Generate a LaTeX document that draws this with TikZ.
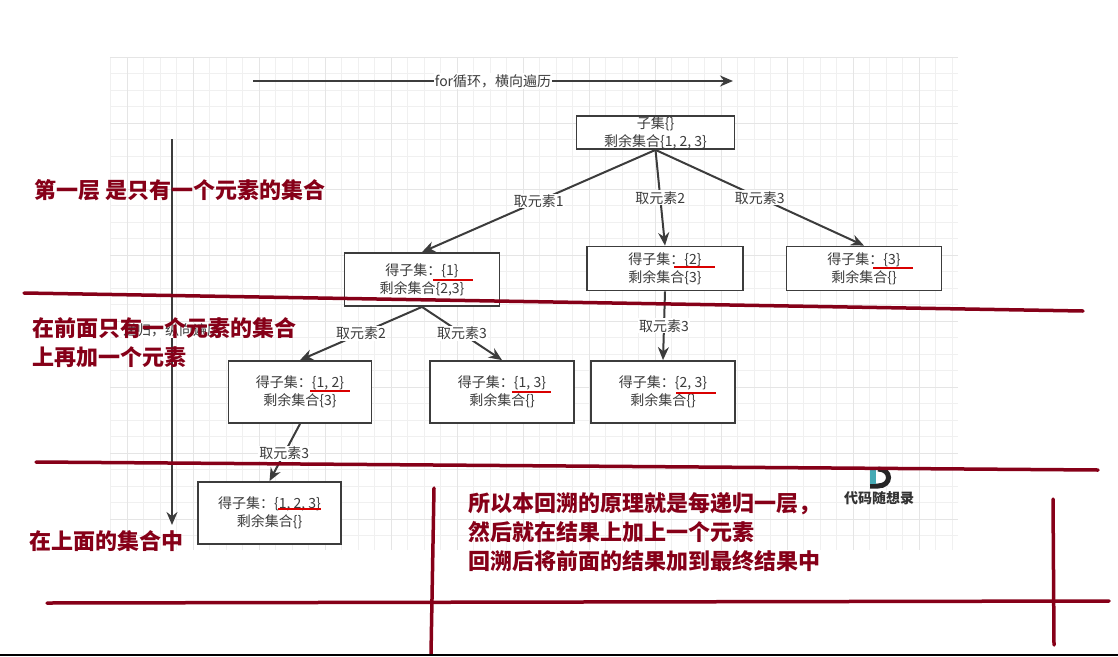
\documentclass[tikz,border=0pt]{standalone}
\usepackage{fontspec}
\setmainfont{Noto Sans CJK SC}
\usetikzlibrary{arrows.meta}
\definecolor{darkred}{RGB}{134,0,24}
\definecolor{inkgray}{RGB}{60,60,60}
\definecolor{logoteal}{RGB}{70,170,180}
\tikzset{
setbox/.style={draw=inkgray,line width=1.8pt,fill=white,text=inkgray,font=\fontsize{14}{18}\selectfont,align=center,inner sep=0pt},
pick/.style={draw=inkgray,line width=2pt,-{Stealth[length=13pt,width=11pt]}},
picklabel/.style={fill=white,text=inkgray,font=\fontsize{14}{16}\selectfont,inner sep=1pt},
markline/.style={draw=red!85!black,line width=1.2pt},
cut/.style={draw=darkred,line width=3.5pt,line cap=round},
note/.style={text=darkred,font=\fontsize{22}{29}\selectfont\bfseries,align=left,anchor=west,inner sep=0pt}
}
\begin{document}
\begin{tikzpicture}[x=1pt,y=-1pt]
\useasboundingbox (0,0) rectangle (1118,656);
% grid
\foreach \gx in {110.5,127,...,958} \draw[black!6,line width=0.7pt] (\gx,57) -- (\gx,550);
\foreach \gy in {57,73.5,...,550} \draw[black!6,line width=0.7pt] (110,\gy) -- (958,\gy);
\foreach \gx in {127,193,...,958} \draw[black!10,line width=0.9pt] (\gx,57) -- (\gx,550);
\foreach \gy in {57,123,...,550} \draw[black!10,line width=0.9pt] (110,\gy) -- (958,\gy);
% axes
\coordinate (forstart) at (253,81);
\coordinate (forend) at (733,81);
\coordinate (depthstart) at (172,139);
\coordinate (depthend) at (172,525);
\draw[pick] (forstart) -- node[picklabel,pos=0.5]{for循环，横向遍历} (forend);
\draw[pick] (depthstart) -- node[picklabel,pos=0.497]{递归，纵向遍历} (depthend);
% sets
\node[setbox,minimum width=158pt,minimum height=33pt] (root) at (655.5,132.5) {子集\{\}\\剩余集合\{1, 2, 3\}};
\node[setbox,minimum width=155pt,minimum height=53pt] (one) at (422,279.5) {得子集：\{1\}\\剩余集合\{2,3\}};
\node[setbox,minimum width=156pt,minimum height=44pt] (two) at (665,268.5) {得子集：\{2\}\\剩余集合\{3\}};
\node[setbox,minimum width=155pt,minimum height=44pt] (three) at (864,268.5) {得子集：\{3\}\\剩余集合\{\}};
\node[setbox,minimum width=143pt,minimum height=62pt] (onetwo) at (300,392) {得子集：\{1, 2\}\\剩余集合\{3\}};
\node[setbox,minimum width=144pt,minimum height=62pt] (onethree) at (502,392) {得子集：\{1, 3\}\\剩余集合\{\}};
\node[setbox,minimum width=144pt,minimum height=62pt] (twothree) at (663,392) {得子集：\{2, 3\}\\剩余集合\{\}};
\node[setbox,minimum width=143pt,minimum height=62pt] (all) at (269.5,513) {得子集：\{1, 2, 3\}\\剩余集合\{\}};
% picks
\draw[pick] (root.south) -- node[picklabel,pos=0.5]{取元素1} (one.north);
\draw[pick] (root.south) -- node[picklabel,pos=0.5]{取元素2} (two.north);
\draw[pick] (root.south) -- node[picklabel,pos=0.5]{取元素3} (three.north);
\draw[pick] (one.south) -- node[picklabel,pos=0.5]{取元素2} (onetwo.north);
\draw[pick] (one.south) -- node[picklabel,pos=0.5]{取元素3} (onethree.north);
\draw[pick] (two.south) -- node[picklabel,pos=0.5]{取元素3} (twothree.north);
\draw[pick] (onetwo.south) -- node[picklabel,pos=0.52]{取元素3} (all.north);
% red underlines
\draw[markline] (433,280) -- (473,280);
\draw[markline] (674,267) -- (715,267);
\draw[markline] (873,268) -- (913,268);
\draw[markline] (310,391) -- (350,391);
\draw[markline] (512,392) -- (551,392);
\draw[markline] (676,393) -- (716,393);
\draw[markline] (278,509) -- (321,509);
% logo
\draw[black!85,line width=5pt] (878,469) .. controls (892,469) and (892,486) .. (878,486) -- (870,486);
\fill[logoteal] (870,468) rectangle (876,484);
\node[text=black!80,font=\bfseries\fontsize{14}{15}\selectfont,inner sep=0pt] (logotext) at (879,498) {代码随想录};
% cuts
\draw[cut] (24,293) -- (1083,311);
\draw[cut] (36,462) -- (1098,470);
\draw[cut] (47,603) -- (1109,601);
\draw[cut] (434,488) -- (431,654);
\draw[cut] (1053,499) -- (1054,645);
\draw[black,line width=2pt] (0,655) -- (1118,655);
% notes
\node[note] (layerone) at (34,190) {第一层 是只有一个元素的集合};
\node[note] (layertwo) at (32,343) {在前面只有一个元素的集合\\上再加一个元素};
\node[note] (layerthree) at (29,541) {在上面的集合中};
\node[note] (summary) at (468,532) {所以本回溯的原理就是每递归一层，\\然后就在结果上加上一个元素\\回溯后将前面的结果加到最终结果中};
\end{tikzpicture}
\end{document}
